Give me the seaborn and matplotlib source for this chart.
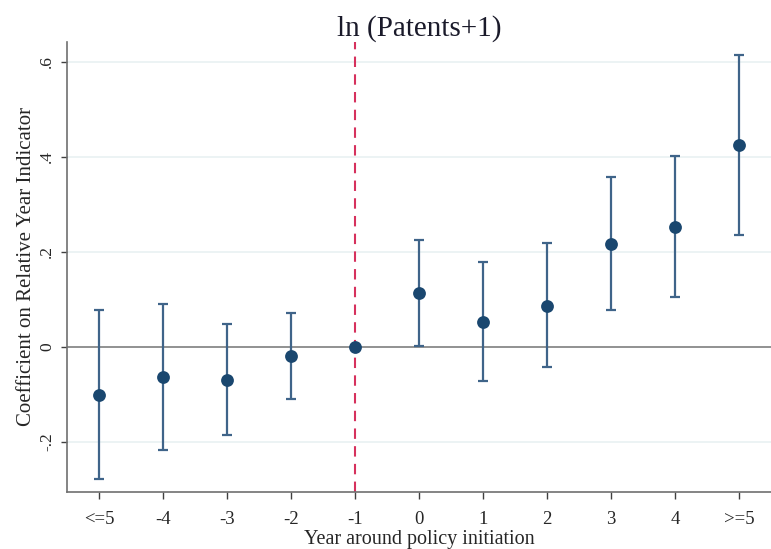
import matplotlib
matplotlib.use("Agg")
import matplotlib.pyplot as plt
import seaborn as sns
import numpy as np
import pandas as pd

# Event-study coefficients
labels = ["<=5", "-4", "-3", "-2", "-1", "0", "1", "2", "3", "4", ">=5"]
coef = [-0.101, -0.063, -0.069, -0.019, 0.0, 0.114, 0.053, 0.087, 0.217, 0.253, 0.425]
ci_low = [-0.278, -0.217, -0.185, -0.109, np.nan, 0.002, -0.071, -0.042, 0.078, 0.105, 0.236]
ci_high = [0.078, 0.090, 0.048, 0.071, np.nan, 0.225, 0.179, 0.219, 0.358, 0.402, 0.615]
ytick_vals = [-0.2, 0.0, 0.2, 0.4, 0.6]
ytick_text = ["-.2", "0", ".2", ".4", ".6"]

df = pd.DataFrame({"pos": np.arange(len(labels)), "coef": coef,
                   "lo": ci_low, "hi": ci_high})

sns.set_style("white")
plt.rcParams["font.family"] = ["Liberation Serif", "DejaVu Serif"]

fig = plt.figure(figsize=(7.71, 5.49), dpi=100, facecolor="white")
ax = fig.add_axes([0.087, 0.104, 0.913, 0.82])

for v in ytick_vals:
    ax.axhline(v, color="#eaf2f3", lw=1.3, zorder=0)
ax.axhline(0, color="#8a8a8a", lw=1.3, zorder=1)
ax.axvline(4, color="#d6315d", lw=1.5, ls=(0, (5, 3.5)), zorder=1)

ax.errorbar(df["pos"], df["coef"],
            yerr=[df["coef"] - df["lo"], df["hi"] - df["coef"]],
            fmt="none", ecolor="#3f6489", elinewidth=1.6, capsize=3.5,
            capthick=1.6, zorder=2)
sns.scatterplot(data=df, x="pos", y="coef", ax=ax, s=85, color="#1a476f",
                edgecolor="#1a476f", linewidth=0, zorder=3, legend=False)

ax.set_xlim(-0.5, 10.5)
ax.set_ylim(-0.305, 0.642)
ax.set_xticks(df["pos"])
ax.set_xticklabels(labels, fontsize=13.5)
ax.set_yticks(ytick_vals)
ax.set_yticklabels(ytick_text, fontsize=12.5, rotation=90, va="center")

ax.set_title("ln (Patents+1)", fontsize=21, pad=4, color="#1a1a2a")
ax.set_xlabel("Year around policy initiation", fontsize=14.5, labelpad=2)
ax.set_ylabel("Coefficient on Relative Year Indicator", fontsize=15, labelpad=2)

for side in ["top", "right"]:
    ax.spines[side].set_visible(False)
for side in ["left", "bottom"]:
    ax.spines[side].set_color("#707070")
    ax.spines[side].set_linewidth(1.2)
ax.tick_params(axis="x", direction="out", length=5, width=1,
               color="#404040", pad=8.5, bottom=True)
ax.tick_params(axis="y", direction="out", length=4.5, width=1,
               color="#404040", pad=4, left=True)

fig.savefig("out.png", dpi=100, facecolor="white")
plt.close(fig)
